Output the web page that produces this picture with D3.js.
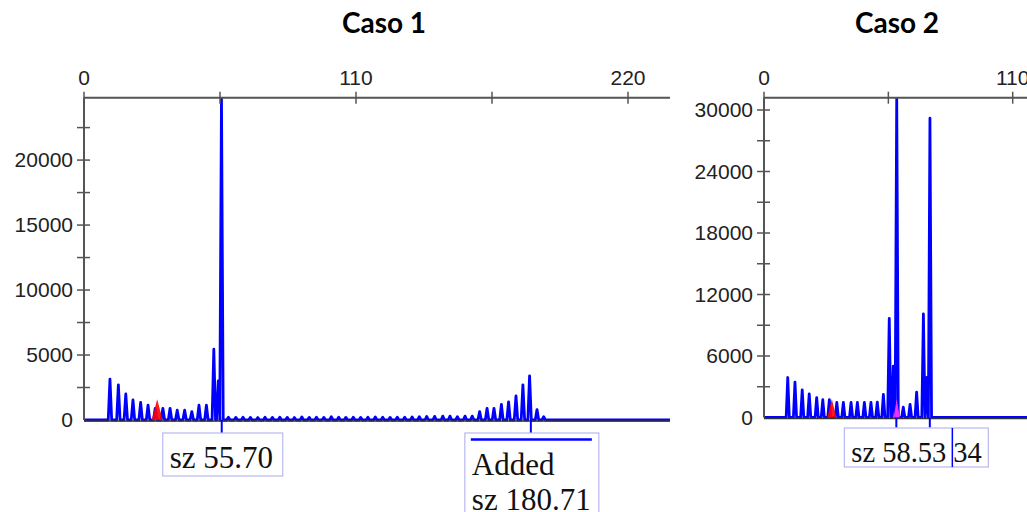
<!DOCTYPE html>
<html>
<head>
<meta charset="utf-8">
<script src="https://cdn.jsdelivr.net/npm/d3@7"></script>
<style>
  body { margin: 0; background: #fff; }
  svg { display: block; }
</style>
</head>
<body>
<svg id="chart" width="1027" height="512"></svg>
<script>
// --- data (size in bp, height in RFU) ---
const titles = ["Caso 1", "Caso 2"];

const caso1Pos = [10.5, 13.9, 16.9, 19.8, 22.9, 25.9, 28.8, 31.9, 34.8, 37.7, 40.7, 43.6, 46.5, 49.5, 52.5, 54.3, 55.6,
  58.4, 61.4, 64.3, 67.3, 70.3, 73.2, 76.2, 79.2, 82.2, 85.1, 88.1, 91.1, 94.0, 97.0, 100.0, 103.0, 105.9, 108.9,
  111.9, 114.8, 117.8, 120.8, 123.8, 126.7, 129.7, 132.7, 135.6, 138.6, 141.8,
  145.1, 148.0, 151.0, 154.1, 157.0, 160.0, 163.0, 165.8, 168.8, 171.7, 174.7, 177.5, 180.2, 183.2, 185.9];
const caso1Height = [3150, 2700, 2000, 1550, 1350, 1150, 900, 900, 900, 750, 750, 650, 1150, 1150, 5450, 3000, 24800,
  220, 200, 210, 200, 190, 210, 200, 220, 200, 190, 230, 200, 210, 200, 250, 210, 200, 220,
  200, 210, 240, 210, 200, 220, 210, 230, 250, 270, 280,
  300, 300, 250, 300, 300, 650, 900, 900, 1200, 1400, 1850, 2700, 3400, 800, 250];
const caso1Red = { pos: 29.6, height: 1600, half: 2.2 };
const caso1Markers = [55.70, 180.71];

const caso2Pos = [10.5, 13.7, 16.9, 20.0, 23.3, 26.0, 28.9, 32.2, 35.1, 38.5, 41.3, 44.4, 47.3, 50.1, 52.8, 55.4, 57.2,
  58.7, 61.6, 64.6, 67.5, 70.5, 72.0, 73.4];
const caso2Height = [3900, 3460, 2700, 2300, 1930, 1730, 1730, 1470, 1470, 1470, 1470, 1470, 1470, 1500, 2250, 9670, 5000,
  31200, 1000, 1270, 2480, 10100, 3900, 29200];
const caso2Red = { pos: 30.0, height: 1800, half: 2.0 };
const caso2Pink = { pos: 58.7, height: 1800, half: 1.4 };
const caso2Markers = [58.53, 73.34];

const caso1XTicks = [0, 55, 110, 165, 220];
const caso1XLabels = [0, 110, 220];
const caso1YTicks = [2500, 5000, 7500, 10000, 12500, 15000, 17500, 20000, 22500];
const caso1YLabels = [0, 5000, 10000, 15000, 20000];

const caso2XTicks = [0, 55, 110];
const caso2XLabels = [0, 110];
const caso2YTicks = [3000, 6000, 9000, 12000, 15000, 18000, 21000, 24000, 27000, 30000];
const caso2YLabels = [0, 6000, 12000, 18000, 24000, 30000];

const svg = d3.select("#chart");
const axisColor = "#555";
const blue = "#0000ff";

function trace(pos, height, half) {
  // baseline -> spike -> baseline for each peak
  var pts = [[0, 0]];
  pos.forEach(function(p, i) {
    pts.push([p - half, 0], [p, height[i]], [p + half, 0]);
  });
  pts.push([1000, 0]);
  return pts;
}

function panel(opts) {
  var x = d3.scaleLinear().domain(opts.xDomain).range([opts.left, opts.right]);
  var y = d3.scaleLinear().domain(opts.yDomain).range([opts.bottom, opts.top]);
  var g = svg.append("g");

  g.append("defs").append("clipPath").attr("id", opts.id)
    .append("rect").attr("x", opts.left).attr("y", opts.top)
    .attr("width", opts.right - opts.left).attr("height", opts.bottom - opts.top + 4);

  g.append("text").attr("x", opts.titleX).attr("y", 33).attr("text-anchor", "middle")
    .style("font", "bold 28px Lato, 'Open Sans', sans-serif").text(opts.title);

  var plot = g.append("g").attr("clip-path", "url(#" + opts.id + ")");

  var line = d3.line().x(function(d) { return x(d[0]); })
    .y(function(d) { return Math.max(y(d[1]), opts.top); });
  plot.append("path").datum(trace(opts.pos, opts.height, 0.7))
    .attr("d", line).attr("fill", "none").attr("stroke", blue)
    .attr("stroke-width", 2.8).attr("stroke-linejoin", "round");

  var area = d3.area().x(function(d) { return x(d[0]); })
    .y0(y(0)).y1(function(d) { return y(d[1]); });
  opts.fills.forEach(function(f) {
    plot.append("path")
      .datum([[f.pos - f.half, 0], [f.pos, f.height], [f.pos + f.half, 0]])
      .attr("d", area).attr("fill", f.color).attr("fill-opacity", 0.9);
  });

  // baseline
  g.append("line").attr("x1", opts.left).attr("x2", opts.right)
    .attr("y1", y(0) + 1).attr("y2", y(0) + 1)
    .attr("stroke", "#333").attr("stroke-width", 1.5);

  // top axis
  g.append("line").attr("x1", opts.left).attr("x2", opts.right)
    .attr("y1", opts.top).attr("y2", opts.top)
    .attr("stroke", axisColor).attr("stroke-width", 2);
  g.selectAll(null).data(opts.xTicks).enter().append("line")
    .attr("x1", function(d) { return x(d); }).attr("x2", function(d) { return x(d); })
    .attr("y1", opts.top - 6).attr("y2", opts.top + 6)
    .attr("stroke", axisColor).attr("stroke-width", 1.5);
  g.selectAll(null).data(opts.xLabels).enter().append("text")
    .attr("x", function(d) { return x(d); }).attr("y", opts.top - 13)
    .attr("text-anchor", "middle").attr("fill", "#222")
    .style("font", "21px 'Liberation Sans', Arial, sans-serif").text(function(d) { return d; });

  // left axis
  g.append("line").attr("x1", opts.left).attr("x2", opts.left)
    .attr("y1", opts.top).attr("y2", y(0))
    .attr("stroke", axisColor).attr("stroke-width", 2);
  g.selectAll(null).data(opts.yTicks).enter().append("line")
    .attr("x1", opts.left - 7).attr("x2", opts.left + 6)
    .attr("y1", function(d) { return y(d); }).attr("y2", function(d) { return y(d); })
    .attr("stroke", axisColor).attr("stroke-width", 1.5);
  g.selectAll(null).data(opts.yLabels).enter().append("text")
    .attr("x", opts.left - 11).attr("y", function(d) { return y(d); }).attr("dy", "0.35em")
    .attr("text-anchor", "end").attr("fill", "#222")
    .style("font", "21px 'Liberation Sans', Arial, sans-serif").text(function(d) { return d; });

  // size markers below baseline
  g.selectAll(null).data(opts.markers).enter().append("line")
    .attr("x1", function(d) { return x(d); }).attr("x2", function(d) { return x(d); })
    .attr("y1", y(0)).attr("y2", y(0) + opts.markerLen)
    .attr("stroke", blue).attr("stroke-width", 2);

  return { x: x, y: y, g: g };
}

var p1 = panel({
  id: "clip1", title: titles[0], titleX: 384,
  left: 84, right: 670, top: 97.7, bottom: 420,
  xDomain: [0, (670 - 84) / 2.4727], yDomain: [0, 24800],
  pos: caso1Pos, height: caso1Height,
  fills: [Object.assign({ color: "#ff0000" }, caso1Red)],
  xTicks: caso1XTicks, xLabels: caso1XLabels, yTicks: caso1YTicks, yLabels: caso1YLabels,
  markers: caso1Markers, markerLen: 13
});

var p2 = panel({
  id: "clip2", title: titles[1], titleX: 897,
  left: 764, right: 1027, top: 97.7, bottom: 417.5,
  xDomain: [0, (1027 - 764) / 2.261], yDomain: [0, 31200],
  pos: caso2Pos, height: caso2Height,
  fills: [Object.assign({ color: "#ff0000" }, caso2Red), Object.assign({ color: "#ff33ff" }, caso2Pink)],
  xTicks: caso2XTicks, xLabels: caso2XLabels, yTicks: caso2YTicks, yLabels: caso2YLabels,
  markers: caso2Markers, markerLen: 10
});

// label boxes
var boxStroke = "#b8b8f0";

function box(x0, y0, w, h) {
  svg.append("rect").attr("x", x0).attr("y", y0).attr("width", w).attr("height", h)
    .attr("fill", "#fff").attr("stroke", boxStroke).attr("stroke-width", 1.2);
}
function label(x0, y0, t, size) {
  svg.append("text").attr("x", x0).attr("y", y0).attr("fill", "#111")
    .style("font", size + "px 'Liberation Serif', 'Times New Roman', serif").text(t);
}

var m1 = p1.x(caso1Markers[0]), m2 = p1.x(caso1Markers[1]);
box(m1 - 59, 433, 120, 43);
label(m1 - 52, 468, "sz " + caso1Markers[0].toFixed(2), 31);

box(m2 - 66, 433, 134, 90);
svg.append("line").attr("x1", m2 - 60).attr("x2", m2 + 61).attr("y1", 439.5).attr("y2", 439.5)
  .attr("stroke", blue).attr("stroke-width", 2.5);
label(m2 - 59, 475, "Added", 31);
label(m2 - 59, 510, "sz " + caso1Markers[1].toFixed(2), 31);

var n1 = p2.x(caso2Markers[0]);
box(n1 - 52, 428, 144, 39);
label(n1 - 45, 462, "sz " + caso2Markers[0].toFixed(2), 28.5);
svg.append("line").attr("x1", n1 + 56).attr("x2", n1 + 56).attr("y1", 428).attr("y2", 467)
  .attr("stroke", blue).attr("stroke-width", 1.5);
label(n1 + 57, 462, caso2Markers[1].toFixed(2).slice(-2), 28.5);
</script>
</body>
</html>
